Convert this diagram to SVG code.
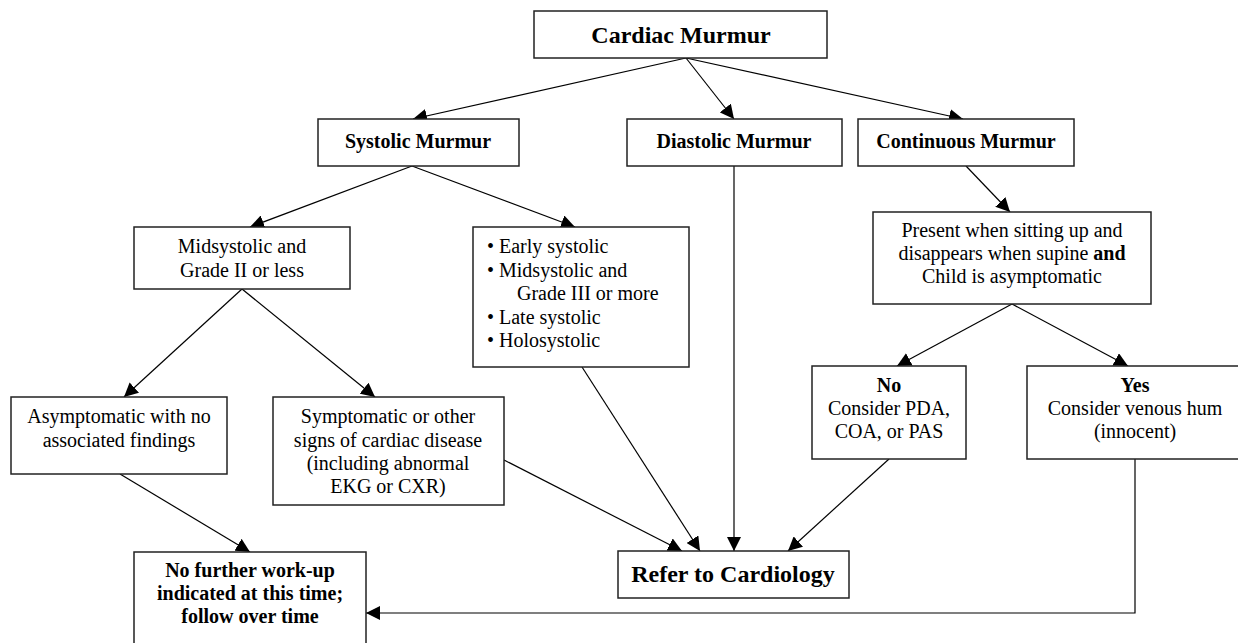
<svg xmlns="http://www.w3.org/2000/svg" width="1238" height="643" viewBox="0 0 1238 643">
<style>
rect.box{fill:#fff;stroke:#222;stroke-width:1.5}
text{font-family:'Liberation Serif','Times New Roman',serif;font-size:20px;fill:#000}
.c{text-anchor:middle}
.b{font-weight:bold}
.big{font-size:24px;font-weight:bold}
.conn line,.conn polyline{stroke:#000;stroke-width:1.2;fill:none;marker-end:url(#ah)}
</style>
<defs>
<marker id="ah" markerUnits="userSpaceOnUse" markerWidth="15" markerHeight="14" refX="14" refY="7" orient="auto">
<path d="M0,0 L14,7 L0,14 z" fill="#000"/>
</marker>
</defs>
<rect width="1238" height="643" fill="#fff"/>
<g class="conn">
<line x1="686" y1="58" x2="413" y2="119"/>
<line x1="686" y1="58" x2="734" y2="119"/>
<line x1="686" y1="58" x2="963" y2="119"/>
<line x1="412" y1="166" x2="250" y2="227"/>
<line x1="412" y1="166" x2="575" y2="227"/>
<line x1="966" y1="166" x2="1010" y2="212"/>
<line x1="242" y1="289" x2="124" y2="397"/>
<line x1="242" y1="289" x2="375" y2="397"/>
<line x1="1012" y1="304" x2="897" y2="366"/>
<line x1="1012" y1="304" x2="1128" y2="366"/>
<line x1="120" y1="474" x2="250" y2="552"/>
<line x1="504" y1="460" x2="682" y2="551"/>
<line x1="582" y1="367" x2="700" y2="551"/>
<line x1="734" y1="166" x2="734" y2="551"/>
<line x1="889" y1="459" x2="788" y2="551"/>
<polyline points="1135,459 1135,613 366,613"/>
</g>
<g id="cardiac"><rect class="box" x="534" y="11" width="293" height="47"/><text class="c big" x="681" y="43">Cardiac Murmur</text></g>
<g id="systolic"><rect class="box" x="318" y="119" width="201" height="47"/><text class="c b" x="418" y="148">Systolic Murmur</text></g>
<g id="diastolic"><rect class="box" x="627" y="119" width="215" height="47"/><text class="c b" x="734" y="148">Diastolic Murmur</text></g>
<g id="continuous"><rect class="box" x="858" y="119" width="216" height="47"/><text class="c b" x="966" y="148">Continuous Murmur</text></g>
<g id="midsys"><rect class="box" x="134" y="227" width="216" height="62"/><text class="c" x="242" y="253">Midsystolic and</text><text class="c" x="242" y="277">Grade II or less</text></g>
<g id="bullets"><rect class="box" x="473" y="227" width="216" height="140"/>
<text x="487" y="253">• Early systolic</text>
<text x="487" y="277">• Midsystolic and</text>
<text x="517" y="300">Grade III or more</text>
<text x="487" y="324">• Late systolic</text>
<text x="487" y="347">• Holosystolic</text></g>
<g id="present"><rect class="box" x="873" y="212" width="278" height="92"/>
<text class="c" x="1012" y="237">Present when sitting up and</text>
<text class="c" x="1012" y="260">disappears when supine <tspan class="b">and</tspan></text>
<text class="c" x="1012" y="283">Child is asymptomatic</text></g>
<g id="asymptomatic"><rect class="box" x="11" y="397" width="216" height="77"/>
<text class="c" x="119" y="423">Asymptomatic with no</text>
<text class="c" x="119" y="447">associated findings</text></g>
<g id="symptomatic"><rect class="box" x="273" y="397" width="231" height="108"/>
<text class="c" x="388" y="423">Symptomatic or other</text>
<text class="c" x="388" y="447">signs of cardiac disease</text>
<text class="c" x="388" y="470">(including abnormal</text>
<text class="c" x="388" y="493">EKG or CXR)</text></g>
<g id="no"><rect class="box" x="812" y="366" width="154" height="93"/>
<text class="c b" x="889" y="392">No</text>
<text class="c" x="889" y="415">Consider PDA,</text>
<text class="c" x="889" y="438">COA, or PAS</text></g>
<g id="yes"><rect class="box" x="1027" y="366" width="220" height="93"/>
<text class="c b" x="1135" y="392">Yes</text>
<text class="c" x="1135" y="415">Consider venous hum</text>
<text class="c" x="1135" y="438">(innocent)</text></g>
<g id="refer"><rect class="box" x="618" y="551" width="231" height="47"/><text class="c big" x="733" y="582">Refer to Cardiology</text></g>
<g id="nofurther"><rect class="box" x="134" y="552" width="232" height="100"/>
<text class="c b" x="250" y="577">No further work-up</text>
<text class="c b" x="250" y="600">indicated at this time;</text>
<text class="c b" x="250" y="623">follow over time</text></g>
</svg>
